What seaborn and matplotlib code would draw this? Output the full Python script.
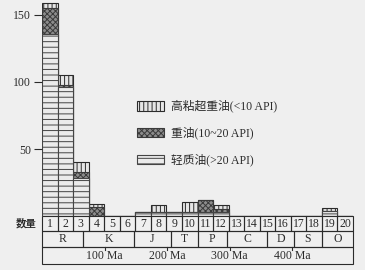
import numpy as np
import pandas as pd
import matplotlib
matplotlib.use("Agg")
import matplotlib.pyplot as plt
import seaborn as sns
from matplotlib.patches import Patch, Rectangle

# counts per bin (1..20)
bins = [str(i) for i in range(1, 21)]
light_oil = [136, 96, 28, 0, 0, 0, 3, 3, 3, 3, 3, 3, 0, 0, 0, 0, 0, 0, 4, 0]
heavy_oil = [19, 2, 4.5, 7, 0, 0, 0, 0, 0, 0, 9, 2, 0, 0, 0, 0, 0, 0, 0, 0]
xheavy_oil = [4, 7, 7.5, 2, 0, 0, 0, 5, 0, 7.5, 0, 3, 0, 0, 0, 0, 0, 0, 2, 0]

# geologic periods under the bins (edges in bin units)
periods = ["R", "K", "J", "T", "P", "C", "D", "S", "O"]
period_edges = [0, 2.65, 5.9, 8.3, 10.0, 11.9, 14.5, 16.2, 18.0, 20]
ma_ticks = [100, 200, 300, 400]

legend_labels = ["高粘超重油(<10 API)", "重油(10~20 API)", "轻质油(>20 API)"]

bg = "#efefef"
ink = "#2b2b2b"
serif = ["Liberation Serif", "DejaVu Serif"]
mixed = ["Liberation Serif", "Noto Sans CJK SC"]
plt.rcParams["hatch.linewidth"] = 0.7

df = pd.DataFrame({"bin": bins, "light": light_oil,
                   "heavy": heavy_oil, "xheavy": xheavy_oil})
df["mid"] = df["light"] + df["heavy"]
df["total"] = df["mid"] + df["xheavy"]

styles = {
    "xheavy": dict(color="#e6e6e6", hatch="||||", edgecolor=ink),
    "heavy": dict(color="#8c8c8c", hatch="xxxxxx", edgecolor="#3a3a3a"),
    "light": dict(color="#ebebeb", hatch="---", edgecolor="#444444"),
}

fig = plt.figure(figsize=(3.65, 2.7), dpi=100, facecolor=bg)
ax = fig.add_axes([42 / 365, 54 / 270, 311 / 365, 214.4 / 270])
ax.set_facecolor("none")

# stacked bars: draw cumulative totals back to front
for col, key in [("total", "xheavy"), ("mid", "heavy"), ("light", "light")]:
    sns.barplot(data=df, x="bin", y=col, order=bins, saturation=1, width=1,
                linewidth=0.8, errorbar=None, ax=ax, **styles[key])

for s in ax.spines.values():
    s.set_visible(False)
ax.set_xlabel("")
ax.set_ylabel("")
ax.tick_params(axis="x", bottom=False, labelbottom=False)
ax.set_yticks([50, 100, 150])
ax.tick_params(axis="y", length=6, width=0.8, pad=2, labelsize=8.5,
               color=ink, labelcolor=ink)
for lbl in ax.get_yticklabels():
    lbl.set_family(serif)

# table under the bars
row_h = 11.5
box = dict(fill=False, ec=ink, lw=0.8, clip_on=False)
for i, b in enumerate(bins):
    ax.add_patch(Rectangle((i - 0.5, -row_h), 1, row_h, **box))
    ax.text(i, -row_h / 2, b, ha="center", va="center", fontsize=8.5,
            family=serif, color=ink, clip_on=False)
ax.text(-1.55, -row_h / 2, "数量", ha="center", va="center", fontsize=7.5,
        family="Noto Sans CJK SC", weight="bold", color=ink, clip_on=False)

for name, a, b in zip(periods, period_edges[:-1], period_edges[1:]):
    ax.add_patch(Rectangle((a - 0.5, -2 * row_h), b - a, row_h, **box))
    ax.text((a + b) / 2 - 0.5, -1.5 * row_h, name, ha="center", va="center",
            fontsize=8.5, family=serif, color=ink, clip_on=False)

ax.add_patch(Rectangle((-0.5, -3 * row_h - 1.2), 20, row_h + 1.2, **box))
for t in ma_ticks:
    x = t * 0.0402 - 0.5
    ax.plot([x, x], [-2 * row_h, -2 * row_h - 2.5], color=ink, lw=0.8,
            clip_on=False)
    ax.text(x, -2.6 * row_h, f"{t} Ma", ha="center", va="center",
            fontsize=8.5, family=serif, color=ink, clip_on=False)

handles = [Patch(facecolor=styles[k]["color"], hatch=styles[k]["hatch"],
                 edgecolor=styles[k]["edgecolor"], lw=0.8)
           for k in ["xheavy", "heavy", "light"]]
ax.legend(handles, legend_labels, loc="upper left",
          bbox_to_anchor=(137 / 365, 1 - 100 / 270),
          bbox_transform=fig.transFigure, frameon=False,
          prop={"family": mixed, "size": 8.5}, handlelength=2.3,
          handleheight=0.9, handletextpad=0.6, labelspacing=1.2,
          borderpad=0, borderaxespad=0, labelcolor=ink)

ax.set_xlim(-0.5, 19.5)
ax.set_ylim(0, 160)

fig.savefig("out.png", dpi=100, facecolor=bg)
